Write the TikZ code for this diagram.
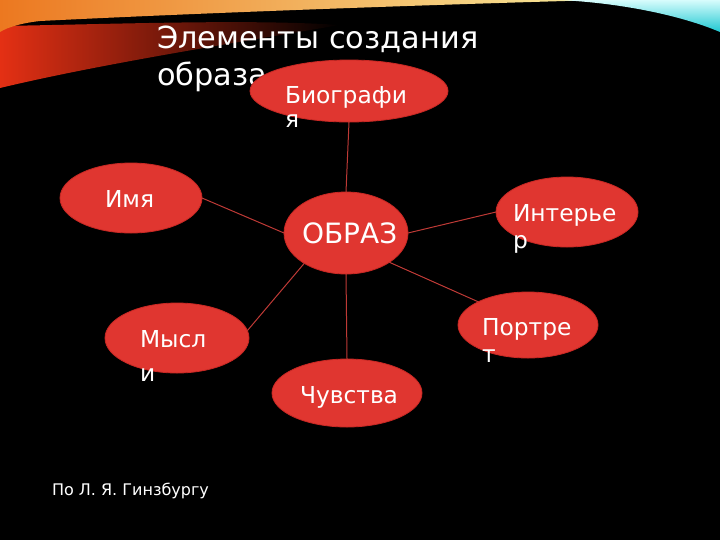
\documentclass[tikz,border=0pt]{standalone}
\usepackage{fontspec}
\setmainfont{DejaVu Sans}
\usetikzlibrary{shapes.geometric}
\definecolor{ered}{RGB}{224,54,48}
\definecolor{eedge}{RGB}{200,40,36}
\definecolor{conn}{RGB}{190,58,54}
\tikzset{
  oval/.style={ellipse, fill=ered, draw=eedge, line width=0.6pt, inner sep=0pt, outer sep=0pt},
  lbl/.style={text=white, inner sep=0pt, outer sep=0pt, anchor=base west, font=\fontsize{17.5pt}{20pt}\selectfont},
  ttl/.style={text=white, inner sep=0pt, outer sep=0pt, anchor=base west, font=\fontsize{22.8pt}{27pt}\selectfont},
  link/.style={draw=conn, line width=0.75pt}
}
\begin{document}
\begin{tikzpicture}[x=0.75pt,y=-0.75pt]
\useasboundingbox (0,0) rectangle (720,540);
\fill[black] (0,0) rectangle (720,540);
% warm swoosh (top left)
\shade[left color={rgb,255:red,228;green,48;blue,20}, middle color={rgb,255:red,205;green,38;blue,15}, right color=black]
  (0,26) .. controls (120,24) and (250,19) .. (340,25) .. controls (240,42) and (100,64) .. (0,88) -- cycle;
\shade[left color={rgb,255:red,236;green,120;blue,32}, middle color={rgb,255:red,240;green,175;blue,70}, right color={rgb,255:red,248;green,234;blue,155}]
  (0,0) -- (600,0) .. controls (420,5) and (200,13) .. (40,21) .. controls (22,23) and (8,27) .. (0,32) -- cycle;
% cool swoosh (top right)
\shade[top color={rgb,255:red,215;green,252;blue,252}, bottom color={rgb,255:red,30;green,200;blue,210}]
  (560,0) -- (720,0) -- (720,32) .. controls (680,15) and (620,3) .. (560,0) -- cycle;
% title
\node[ttl] (t1) at (157,48) {Элементы создания};
\node[ttl] (t2) at (157,85) {образа};
% ellipses
\node[oval, minimum width=148.5pt, minimum height=46.5pt] (bio) at (349,91) {};
\node[oval, minimum width=93pt, minimum height=61.5pt] (obr) at (346,233) {};
\node[oval, minimum width=106.5pt, minimum height=52.5pt] (imya) at (131,198) {};
\node[oval, minimum width=106.5pt, minimum height=52.5pt] (inter) at (567,212) {};
\node[oval, minimum width=105pt, minimum height=49.5pt] (port) at (528,325) {};
\node[oval, minimum width=108pt, minimum height=52.5pt] (mysl) at (177,338) {};
\node[oval, minimum width=112.5pt, minimum height=51pt] (chuv) at (347,393) {};
% connectors
\draw[link] (obr.north) -- (bio.south);
\draw[link] (obr.west) -- (imya.east);
\draw[link] (obr.east) -- (inter.west);
\draw[link] (obr.326) -- (port.155);
\draw[link] (obr.216) -- (mysl.6);
\draw[link] (obr.south) -- (chuv.north);
% labels
\node[lbl] (lbio1) at (285,103) {Биографи};
\node[lbl] (lbio2) at (285,127) {я};
\node[lbl, font=\fontsize{21pt}{24pt}\selectfont] (lobr) at (302,243) {ОБРАЗ};
\node[lbl] (limya) at (105,207) {Имя};
\node[lbl] (lint1) at (513,221) {Интерье};
\node[lbl] (lint2) at (513,248) {р};
\node[lbl] (lport1) at (482,335) {Портре};
\node[lbl] (lport2) at (482,362) {т};
\node[lbl] (lmys1) at (140,347) {Мысл};
\node[lbl] (lmys2) at (140,381) {и};
\node[lbl] (lchuv) at (300,403) {Чувства};
% footer
\node[lbl, font=\fontsize{12pt}{15pt}\selectfont] (foot) at (52,495) {По Л. Я. Гинзбургу};
\end{tikzpicture}
\end{document}
